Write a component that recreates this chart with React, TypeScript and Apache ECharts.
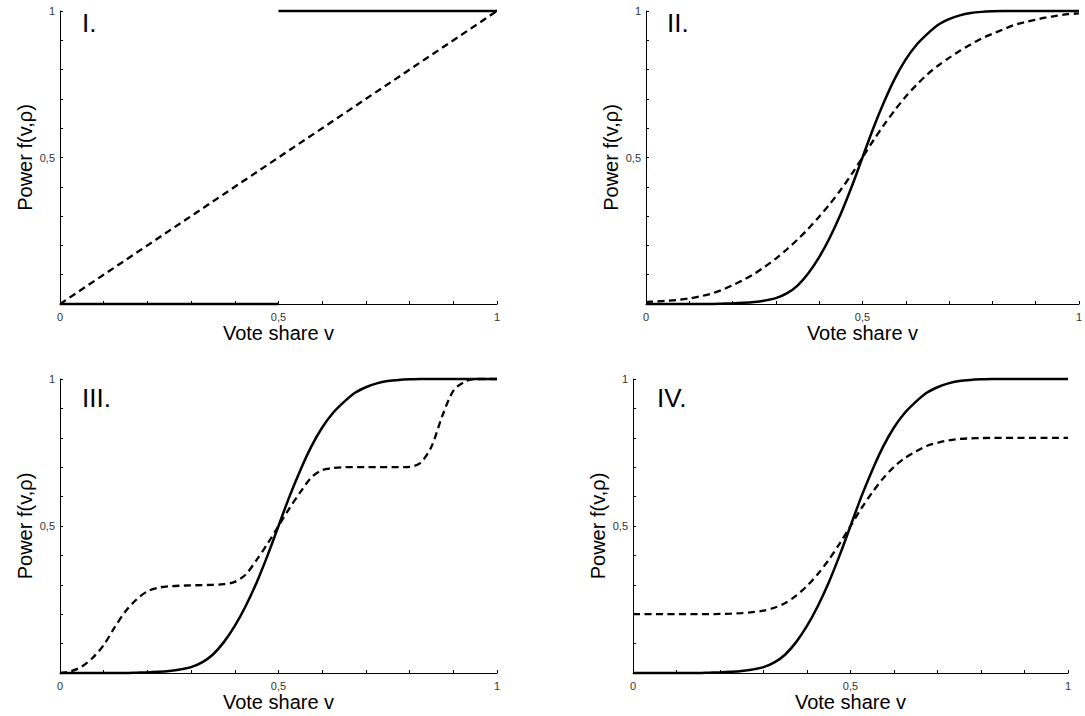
import React, { useEffect, useRef } from "react";
import * as echarts from "echarts";

// Shared vote-share grid (x values)
const voteShare = [
  0, 0.025, 0.05, 0.075, 0.1, 0.125, 0.15, 0.175, 0.2, 0.225, 0.25, 0.275, 0.3, 0.325, 0.35, 0.375, 0.4,
  0.425, 0.45, 0.475, 0.5, 0.525, 0.55, 0.575, 0.6, 0.625, 0.65, 0.675, 0.7, 0.725, 0.75, 0.775, 0.8,
  0.825, 0.85, 0.875, 0.9, 0.925, 0.95, 0.975, 1,
];

// Panel I
const stepLowX = [0, 0.5];
const stepLowY = [0, 0];
const stepHighX = [0.5, 1];
const stepHighY = [1, 1];
const linearX = [0, 1];
const linearY = [0, 1];

// Solid curve (panels II, III, IV)
const steepPower = [
  0, 0, 0, 0, 0, 0, 0, 0.001, 0.002, 0.004, 0.007, 0.012, 0.02, 0.036, 0.063, 0.105, 0.16, 0.228, 0.308,
  0.4, 0.5, 0.6, 0.69, 0.77, 0.835, 0.885, 0.922, 0.953, 0.972, 0.985, 0.993, 0.997, 0.999, 1, 1, 1, 1,
  1, 1, 1, 1,
];

// Panel II dashed
const shallowPower = [
  0.007, 0.009, 0.011, 0.014, 0.019, 0.026, 0.035, 0.048, 0.064, 0.082, 0.103, 0.128, 0.155, 0.186, 0.22,
  0.257, 0.298, 0.342, 0.39, 0.443, 0.5, 0.558, 0.612, 0.662, 0.708, 0.748, 0.784, 0.814, 0.84, 0.864,
  0.886, 0.906, 0.922, 0.937, 0.952, 0.962, 0.97, 0.978, 0.984, 0.989, 0.992,
];

// Panel III dashed
const plateauPower = [
  0, 0.006, 0.022, 0.052, 0.095, 0.155, 0.21, 0.25, 0.278, 0.29, 0.295, 0.297, 0.298, 0.299, 0.3, 0.302,
  0.31, 0.335, 0.385, 0.44, 0.5, 0.56, 0.615, 0.665, 0.69, 0.697, 0.7, 0.7, 0.7, 0.7, 0.7, 0.7, 0.701,
  0.715, 0.77, 0.875, 0.96, 0.99, 1, 1, 1,
];

// Panel IV dashed
const boundedPower = [
  0.2, 0.2, 0.2, 0.2, 0.2, 0.2, 0.2, 0.2, 0.201, 0.202, 0.204, 0.207, 0.212, 0.222, 0.238, 0.263, 0.296,
  0.337, 0.385, 0.44, 0.5, 0.56, 0.614, 0.662, 0.701, 0.731, 0.753, 0.772, 0.783, 0.791, 0.796, 0.798,
  0.799, 0.8, 0.8, 0.8, 0.8, 0.8, 0.8, 0.8, 0.8,
];

const panelLabels = ["I.", "II.", "III.", "IV."];
const xAxisName = "Vote share v";
const yAxisName = "Power f(v,\u03c1)";

const FONT = "'Liberation Sans', Arial, Helvetica, sans-serif";

const pairs = (xs: number[], ys: number[]) => xs.map((x, i) => [x, ys[i]]);

const fmt = (v: number, showZero: boolean) => {
  if (Math.abs(v - 0.5) < 1e-6) return "0,5";
  if (Math.abs(v - 1) < 1e-6) return "1";
  if (showZero && Math.abs(v) < 1e-6) return "0";
  return "";
};

export default function App() {
  const ref = useRef<HTMLDivElement>(null);

  useEffect(() => {
    if (!ref.current) return;
    const chart = echarts.init(ref.current, undefined, { renderer: "svg" });

    const grids = [
      { left: 60, top: 11, width: 437, height: 293 },
      { left: 646, top: 11, width: 435, height: 293 },
      { left: 60, top: 379, width: 437, height: 294 },
      { left: 633, top: 379, width: 435, height: 294 },
    ];

    const axisCommon = {
      type: "value",
      min: 0,
      max: 1,
      interval: 0.1,
      splitLine: { show: false },
      axisLine: { show: true, onZero: false, lineStyle: { color: "#000", width: 1 } },
      axisTick: { show: true, inside: true, length: 3, lineStyle: { color: "#000", width: 1 } },
      nameLocation: "middle",
      nameTextStyle: { fontFamily: FONT, fontSize: 20, color: "#000" },
    };

    const xAxes = grids.map((_, i) => ({
      ...axisCommon,
      gridIndex: i,
      name: xAxisName,
      nameGap: 18,
      axisLabel: {
        margin: 7,
        fontFamily: FONT,
        fontSize: 11,
        color: "#333",
        formatter: (v: number) => fmt(v, true),
      },
    }));
    const yAxes = grids.map((_, i) => ({
      ...axisCommon,
      gridIndex: i,
      name: yAxisName,
      nameGap: 25,
      axisLabel: {
        margin: 5,
        fontFamily: FONT,
        fontSize: 11,
        color: "#333",
        formatter: (v: number) => fmt(v, false),
      },
    }));

    const solid = { color: "#000", width: 2.5, type: "solid" };
    const dashed = { color: "#000", width: 2.3, type: [7, 4.5] };
    const base = { type: "line", showSymbol: false, symbol: "none", clip: false, silent: true };

    const series = [
      { ...base, xAxisIndex: 0, yAxisIndex: 0, data: pairs(linearX, linearY), lineStyle: dashed },
      { ...base, xAxisIndex: 0, yAxisIndex: 0, data: pairs(stepLowX, stepLowY), lineStyle: solid },
      { ...base, xAxisIndex: 0, yAxisIndex: 0, data: pairs(stepHighX, stepHighY), lineStyle: solid },
      { ...base, xAxisIndex: 1, yAxisIndex: 1, smooth: 0.3, data: pairs(voteShare, shallowPower), lineStyle: dashed },
      { ...base, xAxisIndex: 1, yAxisIndex: 1, smooth: 0.3, data: pairs(voteShare, steepPower), lineStyle: solid },
      { ...base, xAxisIndex: 2, yAxisIndex: 2, smooth: 0.3, data: pairs(voteShare, plateauPower), lineStyle: dashed },
      { ...base, xAxisIndex: 2, yAxisIndex: 2, smooth: 0.3, data: pairs(voteShare, steepPower), lineStyle: solid },
      { ...base, xAxisIndex: 3, yAxisIndex: 3, smooth: 0.3, data: pairs(voteShare, boundedPower), lineStyle: dashed },
      { ...base, xAxisIndex: 3, yAxisIndex: 3, smooth: 0.3, data: pairs(voteShare, steepPower), lineStyle: solid },
    ];

    const labelPos = [
      [82, 10],
      [667, 10],
      [82, 385],
      [657, 385],
    ];

    chart.setOption({
      animation: false,
      backgroundColor: "#fff",
      grid: grids,
      xAxis: xAxes,
      yAxis: yAxes,
      series,
      graphic: panelLabels.map((t, i) => ({
        type: "text",
        x: labelPos[i][0],
        y: labelPos[i][1],
        style: {
          text: t,
          fontFamily: FONT,
          fontSize: 26,
          fill: "#000",
          textVerticalAlign: "top",
          verticalAlign: "top",
        },
      })),
    });

    return () => chart.dispose();
  }, []);

  return (
    <div
      ref={ref}
      style={{ position: "fixed", left: 0, top: 0, width: 1085, height: 716, background: "#fff" }}
    />
  );
}
